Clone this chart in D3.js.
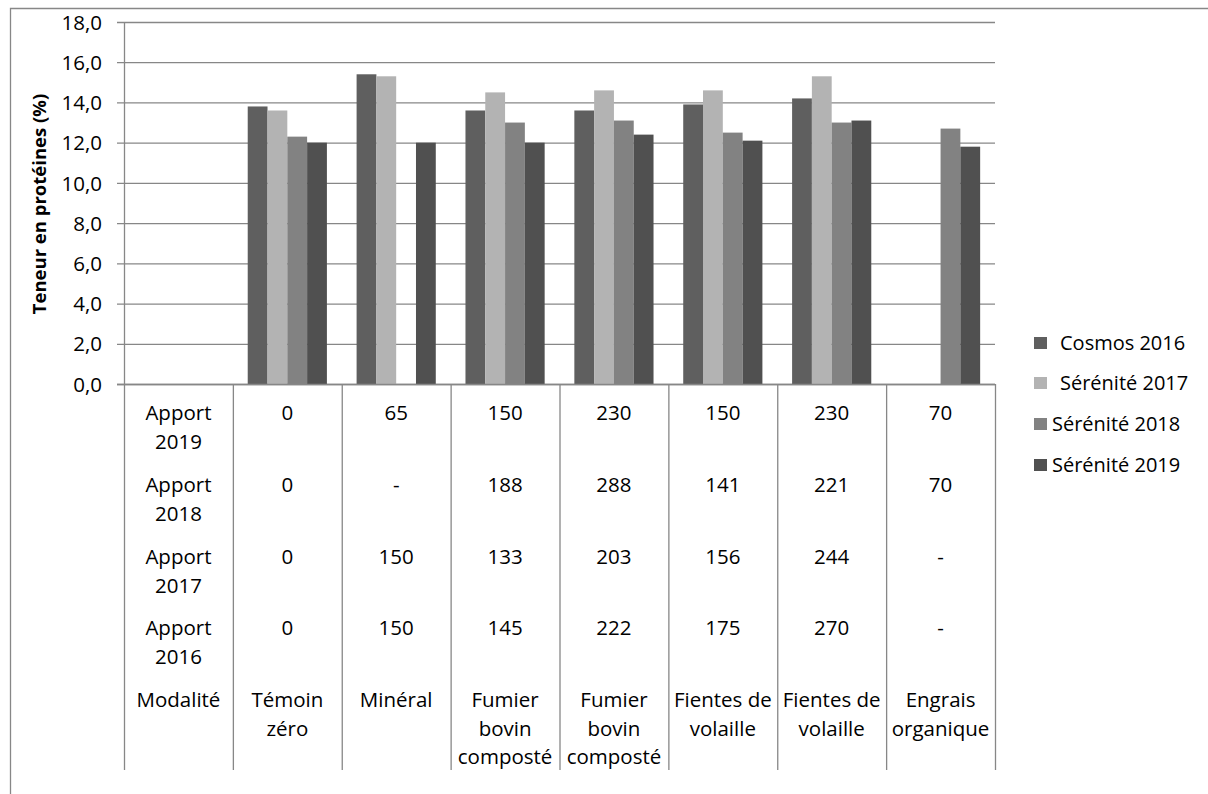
<!DOCTYPE html>
<html lang="fr">
<head>
<meta charset="utf-8">
<script src="https://cdn.jsdelivr.net/npm/d3@7"></script>
<style>
  html, body { margin: 0; padding: 0; background: #fff; }
  svg { display: block; font-family: "Open Sans", "Noto Sans", sans-serif; }
</style>
</head>
<body>
<svg id="chart" width="1208" height="794"></svg>
<script>
// Modalités (labels split on line breaks for the table)
const modalites = [
  ["Témoin", "zéro"],
  ["Minéral"],
  ["Fumier", "bovin", "composté"],
  ["Fumier", "bovin", "composté"],
  ["Fientes de", "volaille"],
  ["Fientes de", "volaille"],
  ["Engrais", "organique"]
];

// Teneur en protéines (%) par variété / année
const seriesNames = ["Cosmos 2016", "Sérénité 2017", "Sérénité 2018", "Sérénité 2019"];
const cosmos2016   = [13.8, 15.4, 13.6, 13.6, 13.9, 14.2, null];
const serenite2017 = [13.6, 15.3, 14.5, 14.6, 14.6, 15.3, null];
const serenite2018 = [12.3, null, 13.0, 13.1, 12.5, 13.0, 12.7];
const serenite2019 = [12.0, 12.0, 12.0, 12.4, 12.1, 13.1, 11.8];

// Apports azotés (table sous le graphique)
const rowHeaders = [["Apport", "2019"], ["Apport", "2018"], ["Apport", "2017"], ["Apport", "2016"], ["Modalité"]];
const apport2019 = ["0", "65", "150", "230", "150", "230", "70"];
const apport2018 = ["0", "-", "188", "288", "141", "221", "70"];
const apport2017 = ["0", "150", "133", "203", "156", "244", "-"];
const apport2016 = ["0", "150", "145", "222", "175", "270", "-"];

const yTicks = [0, 2, 4, 6, 8, 10, 12, 14, 16, 18];

const colors = ["#5f5f5f", "#b3b3b3", "#828282", "#505050"];
const gridColor = "#878787";

const svg = d3.select("#chart");

// frame
svg.append("path")
  .attr("d", "M10.5,800 V8.5 H1210")
  .attr("fill", "none").attr("stroke", gridColor).attr("stroke-width", 1.3);

const plotL = 124, plotR = 995, plotT = 22, plotB = 384, tableB = 770;

// column keys: table header column then one column per modalité
const cols = ["hdr"].concat(modalites.map((d, i) => i));
const x = d3.scaleBand().domain(cols).range([plotL, plotR]).padding(0);
const y = d3.scaleLinear().domain([0, 18]).range([plotB, plotT]);
const xs = d3.scaleBand().domain(d3.range(seriesNames.length))
  .range([0, x.bandwidth()]).paddingInner(0).paddingOuter(0.75);

const fr = d3.formatLocale({ decimal: ",", thousands: " ", grouping: [3], currency: ["", " €"] });
const fmt = fr.format(".1f");

// gridlines + y axis labels
const gy = svg.append("g").attr("transform", `translate(${plotR},0)`);
gy.call(d3.axisLeft(y).tickValues(yTicks).tickFormat(fmt).tickSize(plotR - plotL + 7).tickPadding(16));
gy.select(".domain").remove();
gy.selectAll(".tick line").attr("stroke", gridColor).attr("stroke-width", 1.3);
gy.selectAll(".tick text")
  .attr("fill", "#000").attr("font-size", 20.5).attr("font-family", "Open Sans, sans-serif")
  .attr("x", -(plotR - plotL) - 22).attr("dy", "0.35em");

// bars
const series = [cosmos2016, serenite2017, serenite2018, serenite2019];
const barData = [];
series.forEach((vals, s) => vals.forEach((v, i) => { if (v != null) barData.push({ s, i, v }); }));
svg.append("g").selectAll("rect").data(barData).join("rect")
  .attr("x", d => x(d.i) + xs(d.s))
  .attr("width", xs.bandwidth())
  .attr("y", d => y(d.v))
  .attr("height", d => y(0) - y(d.v))
  .attr("fill", d => colors[d.s]);

// y axis line down through the table, column separators
const lines = svg.append("g").attr("stroke", gridColor).attr("stroke-width", 1.3);
lines.append("line").attr("x1", plotL + 0.5).attr("x2", plotL + 0.5).attr("y1", plotT).attr("y2", tableB);
cols.slice(1).forEach(c => {
  lines.append("line").attr("x1", x(c) + 0.5).attr("x2", x(c) + 0.5).attr("y1", plotB).attr("y2", tableB);
});
lines.append("line").attr("x1", plotR + 0.5).attr("x2", plotR + 0.5).attr("y1", plotB).attr("y2", tableB);
lines.append("line").attr("x1", plotL - 7).attr("x2", plotR).attr("y1", plotB + 0.5).attr("y2", plotB + 0.5);

// table text
const rowTop = [413, 485, 557, 628, 700];
const lineH = 28.5;
const tbl = svg.append("g").attr("font-size", 20.5).attr("fill", "#000").attr("text-anchor", "middle");
function cellText(colKey, row, linesArr) {
  const cx = x(colKey) + x.bandwidth() / 2;
  const t = tbl.append("text").attr("x", cx);
  linesArr.forEach((s, k) => {
    t.append("tspan").attr("x", cx).attr("y", rowTop[row] + k * lineH + 7).text(s);
  });
}
rowHeaders.forEach((h, r) => cellText("hdr", r, h));
[apport2019, apport2018, apport2017, apport2016].forEach((vals, r) => {
  vals.forEach((v, i) => cellText(i, r, [v]));
});
modalites.forEach((m, i) => cellText(i, 4, m));

// y title
svg.append("text")
  .attr("transform", "translate(46,204) rotate(-90)")
  .attr("text-anchor", "middle")
  .attr("font-size", 18.5).attr("font-weight", "bold").attr("fill", "#000")
  .text("Teneur en protéines (%)");

// legend
const legendY = [343, 383, 424, 465];
const legendTextX = [1060, 1060, 1052, 1052];
const lg = svg.append("g");
seriesNames.forEach((name, s) => {
  lg.append("rect").attr("x", 1034).attr("y", legendY[s] - 6).attr("width", 13).attr("height", 12)
    .attr("fill", colors[s]);
  lg.append("text").attr("x", legendTextX[s]).attr("y", legendY[s] + 7)
    .attr("font-size", 20).attr("fill", "#000").text(name);
});
</script>
</body>
</html>
